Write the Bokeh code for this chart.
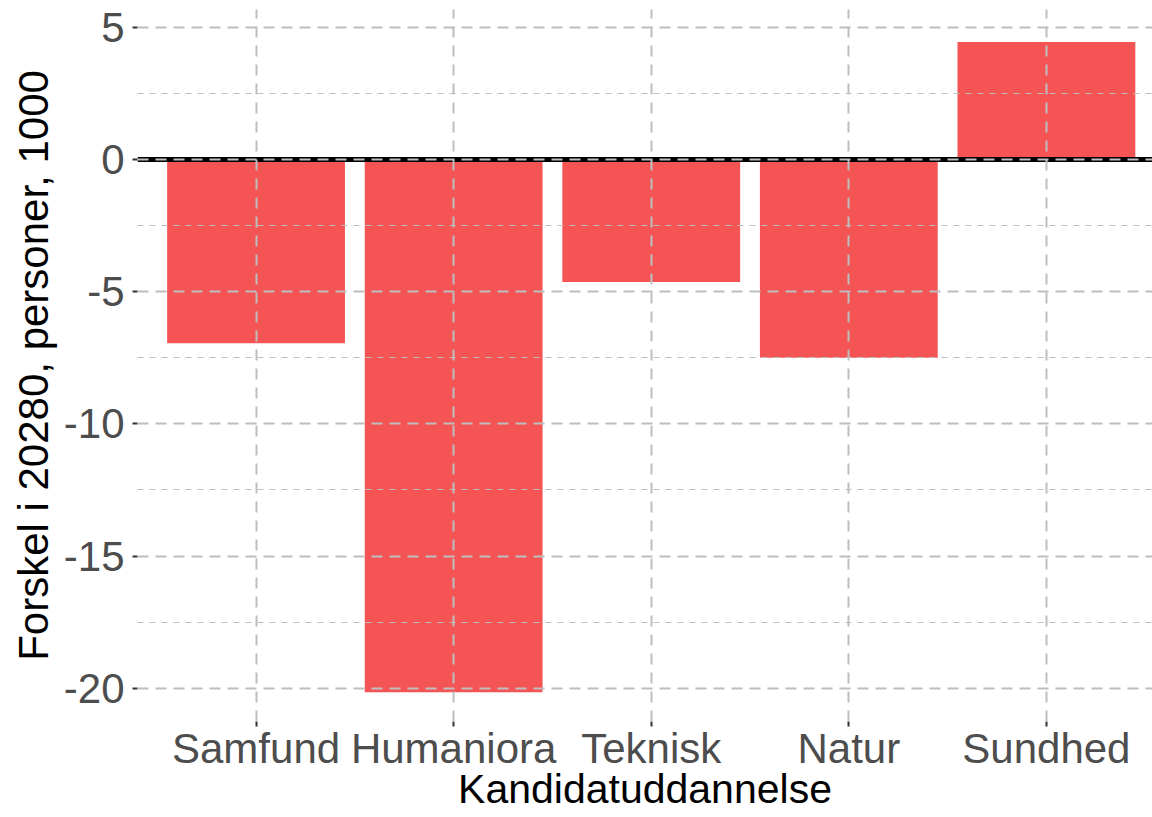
from bokeh.plotting import figure
from bokeh.models import Range1d, FixedTicker, ColumnDataSource
from bokeh.embed import file_html
from bokeh.resources import INLINE

# Data
categories = ["Samfund", "Humaniora", "Teknisk", "Natur", "Sundhed"]
values = [-6.95, -20.15, -4.63, -7.5, 4.45]
y_ticks = [-20, -15, -10, -5, 0, 5]
y_tick_labels = ["-20", "-15", "-10", "-5", "0", "5"]
y_minor = [-17.5, -12.5, -7.5, -2.5, 2.5]
x_title = "Kandidatuddannelse"
y_title = "Forskel i 20280, personer, 1000"

xpos = list(range(1, len(categories) + 1))
src = ColumnDataSource(dict(x=xpos, top=values, cat=categories))

FONT = "Liberation Sans"
GRID = "#BEBEBE"

p = figure(width=1152, height=817, output_backend="svg", toolbar_location=None,
           x_range=Range1d(0.4, 5.537), y_range=Range1d(-21.26, 5.68),
           min_border_left=137, min_border_right=0, min_border_top=9, min_border_bottom=96)
p.outline_line_color = None
p.background_fill_color = "white"
p.border_fill_color = "white"

p.vbar(x="x", top="top", bottom=0, width=0.9, source=src,
       fill_color="#F45454", line_color=None)
p.hspan(y=[0], line_color="black", line_width=5)

# axes
p.xaxis.ticker = FixedTicker(ticks=xpos)
p.xaxis.major_label_overrides = {i: c for i, c in zip(xpos, categories)}
p.yaxis.ticker = FixedTicker(ticks=y_ticks, minor_ticks=y_minor)
p.yaxis.major_label_overrides = {t: l for t, l in zip(y_ticks, y_tick_labels)}

for ax in (p.xaxis[0], p.yaxis[0]):
    ax.axis_line_color = None
    ax.major_tick_line_color = "#333333"
    ax.major_tick_line_width = 2
    ax.major_tick_out = 5
    ax.major_tick_in = 0
    ax.minor_tick_line_color = None
    ax.major_label_text_font = FONT
    ax.major_label_text_font_size = "42px"
    ax.major_label_text_color = "#4D4D4D"
    ax.axis_label_text_font = FONT
    ax.axis_label_text_font_style = "normal"
    ax.axis_label_text_color = "black"

p.xaxis.axis_label = x_title
p.yaxis.axis_label = y_title
p.xaxis.axis_label_text_font_size = "41px"
p.yaxis.axis_label_text_font_size = "42px"
p.xaxis.major_label_standoff = -2
p.xaxis.axis_label_standoff = -9
p.yaxis.major_label_standoff = 8
p.yaxis.axis_label_standoff = 4

# grid on top of bars
p.xgrid.grid_line_color = GRID
p.xgrid.grid_line_width = 2
p.xgrid.grid_line_dash = "11 8"
p.ygrid.grid_line_color = GRID
p.ygrid.grid_line_width = 2
p.ygrid.grid_line_dash = "11 7"
p.ygrid.minor_grid_line_color = GRID
p.ygrid.minor_grid_line_width = 1.2
p.ygrid.minor_grid_line_dash = "6 6"
p.xgrid.level = "annotation"
p.ygrid.level = "annotation"

open("out.html", "w").write(file_html(p, INLINE))
